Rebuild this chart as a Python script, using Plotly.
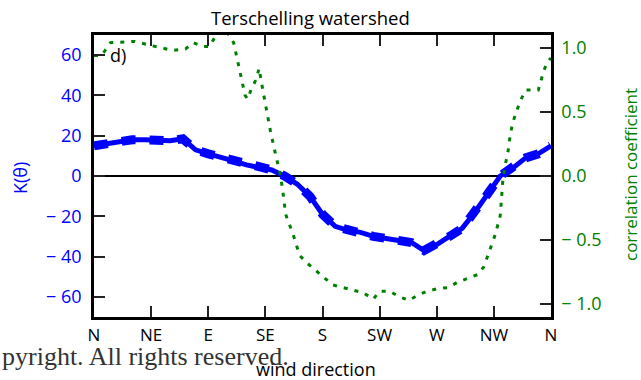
import plotly.graph_objects as go

# ---------------- data ----------------
direction_ticks = [0, 45, 90, 135, 180, 225, 270, 315, 360]
direction_labels = ["N", "NE", "E", "SE", "S", "SW", "W", "NW", "N"]

k_ticks = [-60, -40, -20, 0, 20, 40, 60]
k_tick_labels = ["\u2212 60", "\u2212 40", "\u2212 20", "0", "20", "40", "60"]

corr_ticks = [-1.0, -0.5, 0.0, 0.5, 1.0]
corr_tick_labels = ["\u2212 1.0", "\u2212 0.5", "0.0", "0.5", "1.0"]

k_dir_deg = [0, 10, 20, 30, 40, 50, 60, 70, 80, 90, 100, 110, 120, 130, 140, 150,
             160, 170, 180, 190, 200, 210, 220, 230, 240, 250, 260, 270, 280, 290,
             300, 310, 320, 330, 340, 350, 360]
k_values = [15, 16, 17.5, 18, 18, 17.5, 17.5, 18.5, 13, 11, 9.5, 7.5, 5.5, 4, 3, 0,
            -4, -10, -19, -25, -27, -28, -30, -31, -32, -33, -37, -34, -30, -26,
            -18, -9, 0, 4, 9, 11, 15]

corr_dir_deg = [0, 6, 13, 32, 44, 62, 72, 78, 86, 91, 95, 103, 110, 112, 116, 119,
                121, 124, 128, 130, 133, 136, 139, 143, 147, 149, 151, 157, 162, 168,
                176, 182, 188, 196, 204, 212, 220, 225, 233, 240, 248, 255, 262, 270,
                279, 286, 294, 302, 307, 310, 312, 316, 320, 322, 324, 326, 328, 330,
                333, 336, 340, 350, 354, 357, 360]
corr_values = [0.94, 0.94, 1.04, 1.05, 1.02, 0.98, 0.99, 1.04, 1.01, 1.01, 1.08, 1.15,
               1.04, 0.95, 0.79, 0.63, 0.60, 0.68, 0.76, 0.84, 0.67, 0.50, 0.35, 0.17,
               0.0, -0.14, -0.30, -0.46, -0.62, -0.68, -0.75, -0.80, -0.85, -0.87,
               -0.89, -0.91, -0.96, -0.90, -0.90, -0.94, -0.97, -0.93, -0.90, -0.88,
               -0.87, -0.83, -0.80, -0.77, -0.71, -0.63, -0.57, -0.46, -0.31, -0.04,
               0.09, 0.18, 0.33, 0.42, 0.51, 0.59, 0.67, 0.67, 0.81, 0.89, 0.92]

BLUE = "#0000ff"
GREEN = "#008000"
FONT = "Open Sans"

# ---------------- layout geometry ----------------
W, H = 641, 380
L, R, T, B = 94, 90, 35, 63
PW, PH = W - L - R, H - T - B


def px_x(px):
    return (px - L) / PW


def px_y(py):
    return (H - B - py) / PH


fig = go.Figure()

fig.add_trace(go.Scatter(x=corr_dir_deg, y=corr_values, yaxis="y2", mode="lines",
                         line=dict(color=GREEN, width=3, dash="4px,7px"),
                         showlegend=False, hoverinfo="skip"))
fig.add_trace(go.Scatter(x=k_dir_deg, y=k_values, mode="lines",
                         line=dict(color=BLUE, width=5),
                         showlegend=False, hoverinfo="skip"))
fig.add_trace(go.Scatter(x=k_dir_deg, y=k_values, mode="lines",
                         line=dict(color=BLUE, width=9, dash="14px,14px"),
                         showlegend=False, hoverinfo="skip"))

fig.update_layout(
    width=W, height=H,
    margin=dict(l=L, r=R, t=T, b=B, pad=0),
    paper_bgcolor="white", plot_bgcolor="white",
    showlegend=False,
    xaxis=dict(range=[0, 360], tickvals=direction_ticks, ticktext=direction_labels,
               ticks="inside", ticklen=11, tickwidth=1.5, tickcolor="#222",
               showline=True, linecolor="black", linewidth=2.5, mirror="ticks",
               showgrid=False, zeroline=False,
               tickfont=dict(family=FONT, size=17, color="black"),
               ticklabelstandoff=1),
    yaxis=dict(range=[-70, 70], tickvals=k_ticks, ticktext=k_tick_labels,
               ticks="inside", ticklen=11, tickwidth=1.5, tickcolor="#222",
               showline=True, linecolor="black", linewidth=2.5,
               showgrid=False, zeroline=True, zerolinecolor="black", zerolinewidth=2,
               tickfont=dict(family=FONT, size=18, color=BLUE),
               ticklabelstandoff=6),
    yaxis2=dict(range=[-1.1, 1.1], tickvals=corr_ticks, ticktext=corr_tick_labels,
                overlaying="y", side="right",
                ticks="inside", ticklen=11, tickwidth=1.5, tickcolor="#222",
                showline=True, linecolor="black", linewidth=2.5,
                showgrid=False, zeroline=False,
                tickfont=dict(family=FONT, size=18, color=GREEN),
                ticklabelstandoff=4),
)

annotations = [
    dict(text="Terschelling watershed", x=px_x(310), y=px_y(17),
         font=dict(family=FONT, size=18.5, color="black")),
    dict(text="d)", x=px_x(118), y=px_y(55),
         font=dict(family=FONT, size=18, color="black")),
    dict(text="K(\u03b8)", x=px_x(20), y=px_y(178), textangle=-90,
         font=dict(family=FONT, size=18, color=BLUE)),
    dict(text="correlation coefficient", x=px_x(630), y=px_y(175), textangle=-90,
         font=dict(family=FONT, size=17, color=GREEN)),
    dict(text="wind direction", x=px_x(316), y=px_y(369),
         font=dict(family=FONT, size=18, color="black")),
    dict(text="pyright. All rights reserved.", x=px_x(0), y=px_y(356), xanchor="left",
         font=dict(family="Liberation Serif", size=26, color="#333333")),
]
for a in annotations:
    a.setdefault("xanchor", "center")
    a.setdefault("yanchor", "middle")
    fig.add_annotation(xref="paper", yref="paper", showarrow=False, **a)

fig.write_html("out.html")
